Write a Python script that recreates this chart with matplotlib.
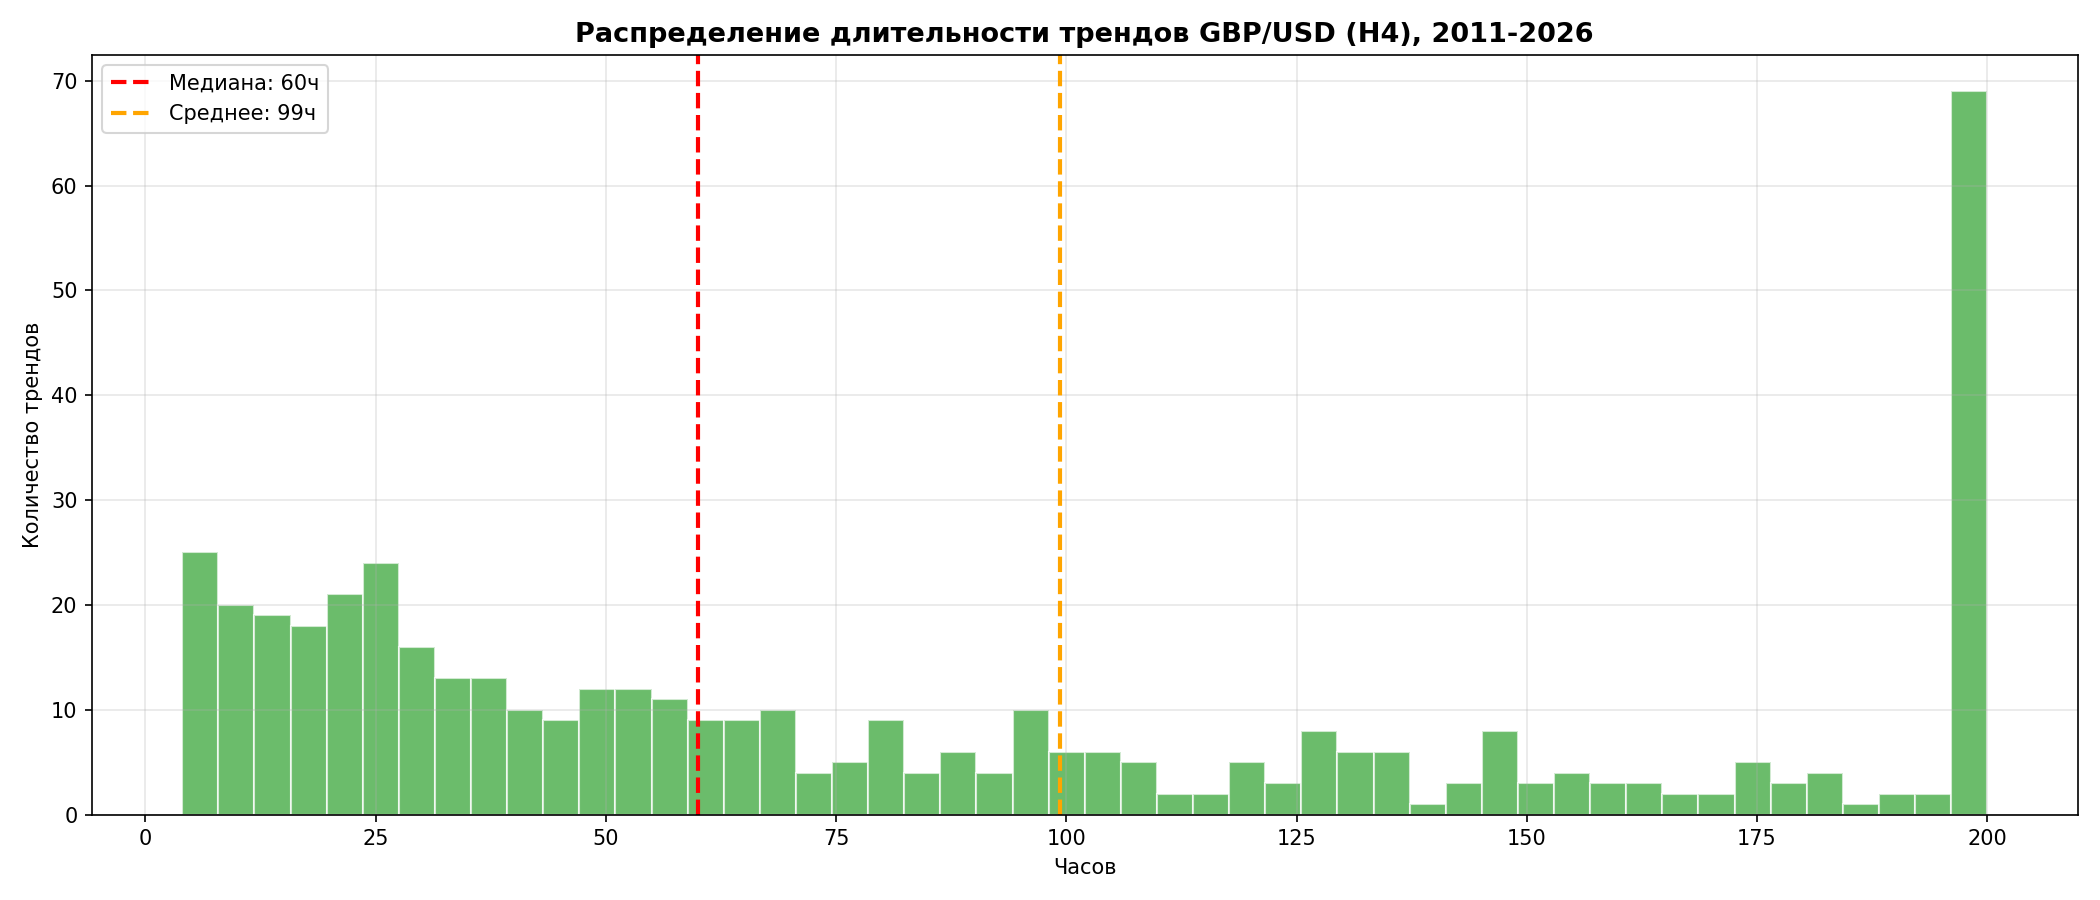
import numpy as np
import matplotlib
matplotlib.use('Agg')
import matplotlib.pyplot as plt

# длительность трендов, часы: 50 бинов от 4 до 200
bin_start = 4
bin_end = 200
counts = [25, 20, 19, 18, 21, 24, 16, 13, 13, 10,
          9, 12, 12, 11, 9, 9, 10, 4, 5, 9,
          4, 6, 4, 10, 6, 6, 5, 2, 2, 5,
          3, 8, 6, 6, 1, 3, 8, 3, 4, 3,
          3, 2, 2, 5, 3, 4, 1, 2, 2, 69]
median_h = 60
mean_h = 99.3

edges = np.linspace(bin_start, bin_end, len(counts) + 1)

fig, ax = plt.subplots(figsize=(14, 6), dpi=150)
ax.hist(edges[:-1], bins=edges, weights=counts, color='tab:green',
        alpha=0.7, edgecolor='white')
ax.axvline(median_h, color='red', linestyle='--', linewidth=2,
           label=f'Медиана: {median_h:.0f}ч')
ax.axvline(mean_h, color='orange', linestyle='--', linewidth=2,
           label=f'Среднее: {mean_h:.0f}ч')

ax.set_xlabel('Часов')
ax.set_ylabel('Количество трендов')
ax.set_title('Распределение длительности трендов GBP/USD (H4), 2011-2026',
             fontsize=13, fontweight='bold')
ax.legend(loc='upper left')
ax.grid(True, alpha=0.3)

plt.tight_layout()
plt.savefig('out.png')
